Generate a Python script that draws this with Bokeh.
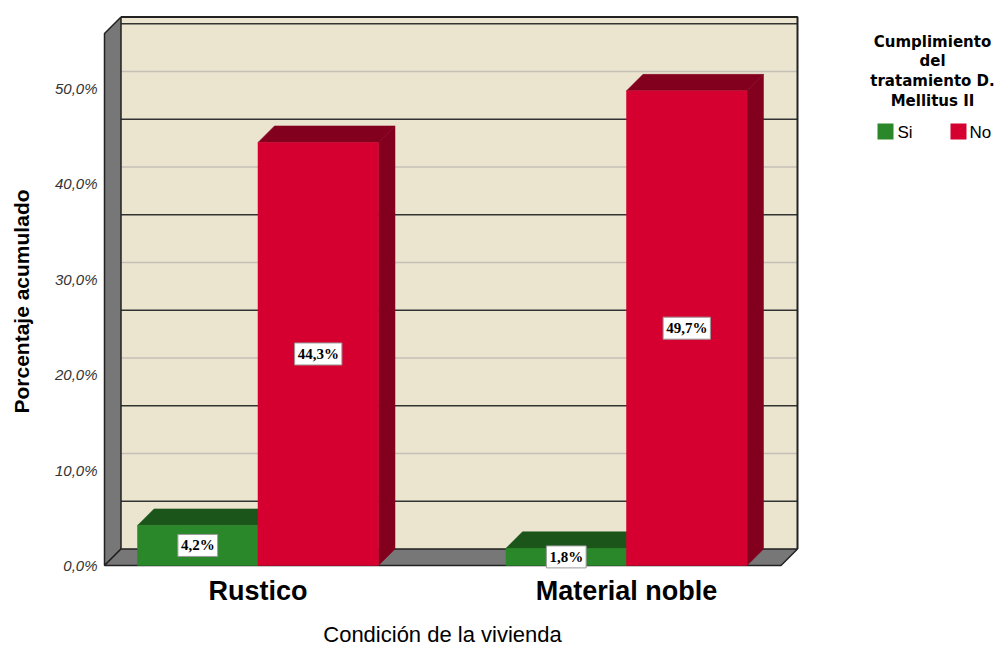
from bokeh.plotting import figure
from bokeh.models import Range1d
from bokeh.core.properties import value
from bokeh.embed import file_html
from bokeh.resources import INLINE

# ---------------- data ----------------
categories = ["Rustico", "Material noble"]
series_names = ["Si", "No"]
si_values = [4.2, 1.8]
no_values = [44.3, 49.7]
y_ticks = [0, 10, 20, 30, 40, 50]
tick_labels = ["0,0%", "10,0%", "20,0%", "30,0%", "40,0%", "50,0%"]
x_title = "Condición de la vivienda"
y_title = "Porcentaje acumulado"
legend_title_lines = ["Cumplimiento", "del", "tratamiento D.", "Mellitus II"]

# ---------------- style ----------------
W, H = 1003, 646
PX_PER_CAT = 368.5          # pixels between category centres
CAT0_PX = 257.5             # pixel x of first category centre
PX_PER_PCT = 9.55           # pixels per percent
ZERO_PX = 565               # pixel y of 0 %
def sx(px):  # pixel size -> x data units
    return px / PX_PER_CAT
def sy(px):
    return px / PX_PER_PCT

BAR_W = sx(120.5)
DX, DY = sx(16.5), sy(16.5)
WALL_TOP = 55.7
LEFT_FRONT = sx(104 - CAT0_PX)
RIGHT_BACK = sx(797 - CAT0_PX)

WALL = "#ebe4cf"
GRAYWALL = "#777777"
EDGE = "#222222"
GREEN, GREEN_D = "#2a882a", "#1b5519"
RED, RED_D = "#d50030", "#82001e"
FONT = "Liberation Sans"

p = figure(width=W, height=H, output_backend="svg", toolbar_location=None,
           x_range=Range1d(sx(-CAT0_PX), sx(W - CAT0_PX)),
           y_range=Range1d(sy(ZERO_PX - H), sy(ZERO_PX)),
           x_axis_location=None, y_axis_location=None, min_border=0,
           outline_line_color=None)
p.grid.visible = False
p.background_fill_color = "white"

# back wall
bl, br = LEFT_FRONT + DX, RIGHT_BACK
p.quad(left=[bl], right=[br], bottom=[DY], top=[WALL_TOP + DY],
       fill_color=WALL, line_color=None)
# back-wall gridlines (5% steps)
grid_vals = [v * 5 for v in range(1, 12)]
for g in grid_vals:
    col = "#c4c0b6" if g % 10 == 0 else "#333333"
    p.segment(x0=[bl], x1=[br], y0=[g + DY], y1=[g + DY], line_color=col, line_width=1.5)
# back wall edges
p.line(x=[bl, br, br], y=[WALL_TOP + DY, WALL_TOP + DY, DY], line_color=EDGE, line_width=2)

# left wall
p.patch(x=[LEFT_FRONT, LEFT_FRONT, bl, bl], y=[0, WALL_TOP, WALL_TOP + DY, DY],
        fill_color=GRAYWALL, line_color=EDGE, line_width=1.5)
# floor
p.patch(x=[LEFT_FRONT, bl, br, br - DX], y=[0, DY, DY, 0],
        fill_color=GRAYWALL, line_color=EDGE, line_width=1.5)

# bars
def bar3d(x0, v, front, dark):
    x1 = x0 + BAR_W
    p.patch(x=[x1, x1 + DX, x1 + DX, x1], y=[0, DY, v + DY, v],
            fill_color=dark, line_color=dark, line_width=0.5)
    p.patch(x=[x0, x0 + DX, x1 + DX, x1], y=[v, v + DY, v + DY, v],
            fill_color=dark, line_color=dark, line_width=0.5)
    p.quad(left=[x0], right=[x1], bottom=[0], top=[v],
           fill_color=front, line_color=front, line_width=0.5)

label_x, label_y, label_t = [], [], []
for i, cat in enumerate(categories):
    bar3d(i - BAR_W, si_values[i], GREEN, GREEN_D)
    bar3d(i, no_values[i], RED, RED_D)
    for x0, v in ((i - BAR_W, si_values[i]), (i, no_values[i])):
        label_x.append(x0 + BAR_W / 2)
        label_y.append(v / 2)
        label_t.append(f"{v:.1f}%".replace(".", ","))

p.text(x=label_x, y=label_y, text=label_t, text_align="center", text_baseline="middle",
       text_font=value("Liberation Serif"), text_font_style="bold", text_font_size="15px",
       text_color="black", background_fill_color="white", border_line_color="#999999",
       padding=3)

# y tick labels
p.text(x=[sx(97 - CAT0_PX)] * len(y_ticks), y=y_ticks, text=tick_labels,
       text_align="right", text_baseline="middle", text_font=value(FONT),
       text_font_style="italic", text_font_size="15px", text_color="#333333")

# category labels
p.text(x=list(range(len(categories))), y=[sy(-25)] * len(categories), text=categories,
       text_align="center", text_baseline="middle", text_font=value(FONT),
       text_font_style="bold", text_font_size="27px", text_color="black")

# axis titles
p.text(x=[sx(442 - CAT0_PX)], y=[sy(565 - 634)], text=[x_title], text_align="center",
       text_baseline="middle", text_font=value(FONT), text_font_size="22px",
       text_color="black")
p.text(x=[sx(21 - CAT0_PX)], y=[sy(565 - 301)], text=[y_title], angle=1.5708,
       text_align="center", text_baseline="middle", text_font=value(FONT),
       text_font_style="bold", text_font_size="21px", text_color="black")

# legend
lt_y = [sy(565 - (41 + 19.7 * k)) for k in range(len(legend_title_lines))]
p.text(x=[sx(932 - CAT0_PX)] * len(legend_title_lines), y=lt_y, text=legend_title_lines,
       text_align="center", text_baseline="middle", text_font=value("DejaVu Sans"),
       text_font_style="bold", text_font_size="15px", text_color="black")
sw_x = [sx(885 - CAT0_PX), sx(958 - CAT0_PX)]
p.rect(x=sw_x, y=[sy(565 - 131)] * 2, width=sx(16), height=sy(16),
       fill_color=[GREEN, RED], line_color=None)
p.text(x=[sx(897 - CAT0_PX), sx(969 - CAT0_PX)], y=[sy(565 - 132)] * 2, text=series_names,
       text_align="left", text_baseline="middle", text_font=value(FONT),
       text_font_size="17px", text_color="black")

open("out.html", "w").write(file_html(p, INLINE))
